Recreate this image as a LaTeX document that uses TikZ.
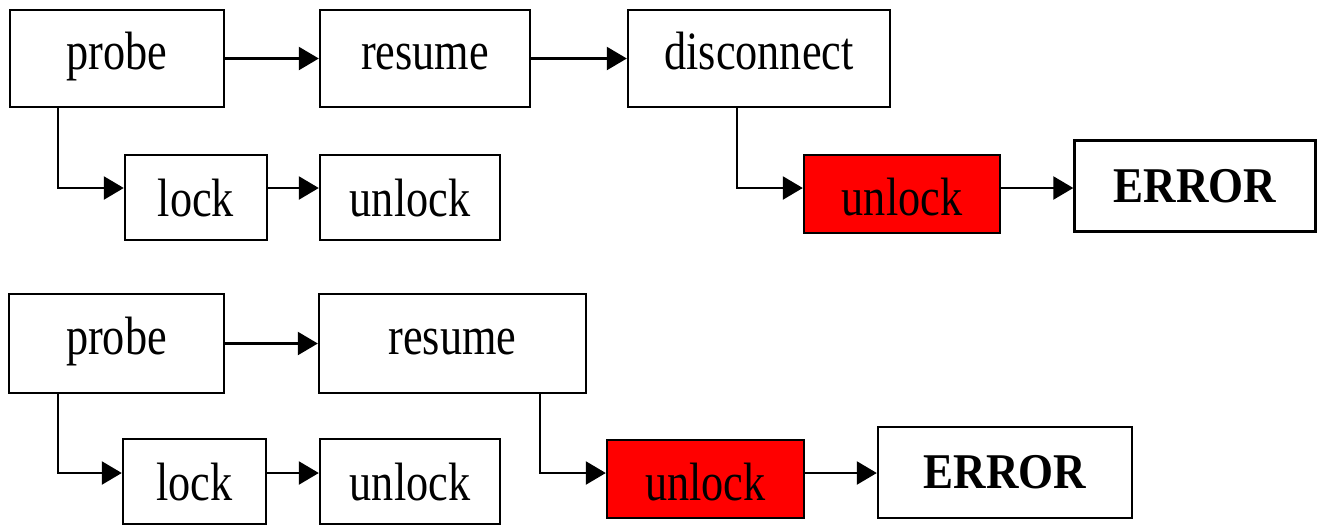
\documentclass[tikz,border=0pt]{standalone}
\usepackage{fontspec}
\setmainfont{Liberation Serif}[FakeStretch=0.82]
\newfontfamily\errfont{Liberation Serif}[FakeStretch=0.9]
\usetikzlibrary{arrows.meta}
\tikzset{
  box/.style={draw=black, line width=1.2pt, fill=white, inner sep=0pt, align=center,
    font=\fontsize{27pt}{30pt}\selectfont},
  bigbox/.style={box, text height=18.5pt, text depth=7.5pt},
  smallbox/.style={box, text height=18.5pt, text depth=0pt},
  redbox/.style={box, fill=red, text height=21pt, text depth=0pt},
  errbox/.style={box, font=\errfont\bfseries\fontsize{25pt}{28pt}\selectfont},
  conn/.style={line width=1.2pt, -{Triangle[length=10pt,width=11.5pt]}},
}
\begin{document}
\begin{tikzpicture}[x=0.5pt,y=-0.5pt]
\useasboundingbox (0,0) rectangle (1317,526);
% top row
\node[bigbox, minimum width=107pt, minimum height=48.5pt] (p1) at (117,58.5) {probe};
\node[bigbox, minimum width=105pt, minimum height=48.5pt] (r1) at (425,58.5) {resume};
\node[bigbox, minimum width=131pt, minimum height=48.5pt] (d1) at (759,58.5) {disconnect};
\node[smallbox, minimum width=71pt, minimum height=42.5pt] (l1) at (196,197.5) {lock};
\node[smallbox, minimum width=90pt, minimum height=42.5pt] (u1) at (410,197.5) {unlock};
\node[redbox, minimum width=98pt, minimum height=39pt] (ru1) at (902,194) {unlock};
\node[errbox, minimum width=120.5pt, minimum height=45.5pt] (e1) at (1195,186) {ERROR};
\coordinate (c1) at (58,188);
\coordinate (c2) at (737,188);
\draw[conn] (p1.east) -- (r1.west);
\draw[conn] (r1.east) -- (d1.west);
\draw[conn] (p1.south -| c1) -- (c1) -- (c1 -| l1.west);
\draw[conn] (l1.east |- c1) -- (c1 -| u1.west);
\draw[conn] (d1.south -| c2) -- (c2) -- (c2 -| ru1.west);
\draw[conn] (ru1.east |- c2) -- (c2 -| e1.west);
% bottom row
\node[bigbox, minimum width=107.5pt, minimum height=49.5pt] (p2) at (116.5,343.5) {probe};
\node[bigbox, minimum width=133.5pt, minimum height=49.5pt] (r2) at (452.5,343.5) {resume};
\node[smallbox, minimum width=71.5pt, minimum height=42.5pt] (l2) at (194.5,481.5) {lock};
\node[smallbox, minimum width=90pt, minimum height=42.5pt] (u2) at (410,481.5) {unlock};
\node[redbox, minimum width=98.5pt, minimum height=39pt] (ru2) at (705.5,479) {unlock};
\node[errbox, minimum width=127pt, minimum height=45.5pt] (e2) at (1005,472.5) {ERROR};
\coordinate (c3) at (58,473);
\coordinate (c4) at (540,473);
\draw[conn] (p2.east) -- (r2.west |- p2.east);
\draw[conn] (p2.south -| c3) -- (c3) -- (c3 -| l2.west);
\draw[conn] (l2.east |- c3) -- (c3 -| u2.west);
\draw[conn] (r2.south -| c4) -- (c4) -- (c4 -| ru2.west);
\draw[conn] (ru2.east |- c4) -- (c4 -| e2.west);
\end{tikzpicture}
\end{document}
